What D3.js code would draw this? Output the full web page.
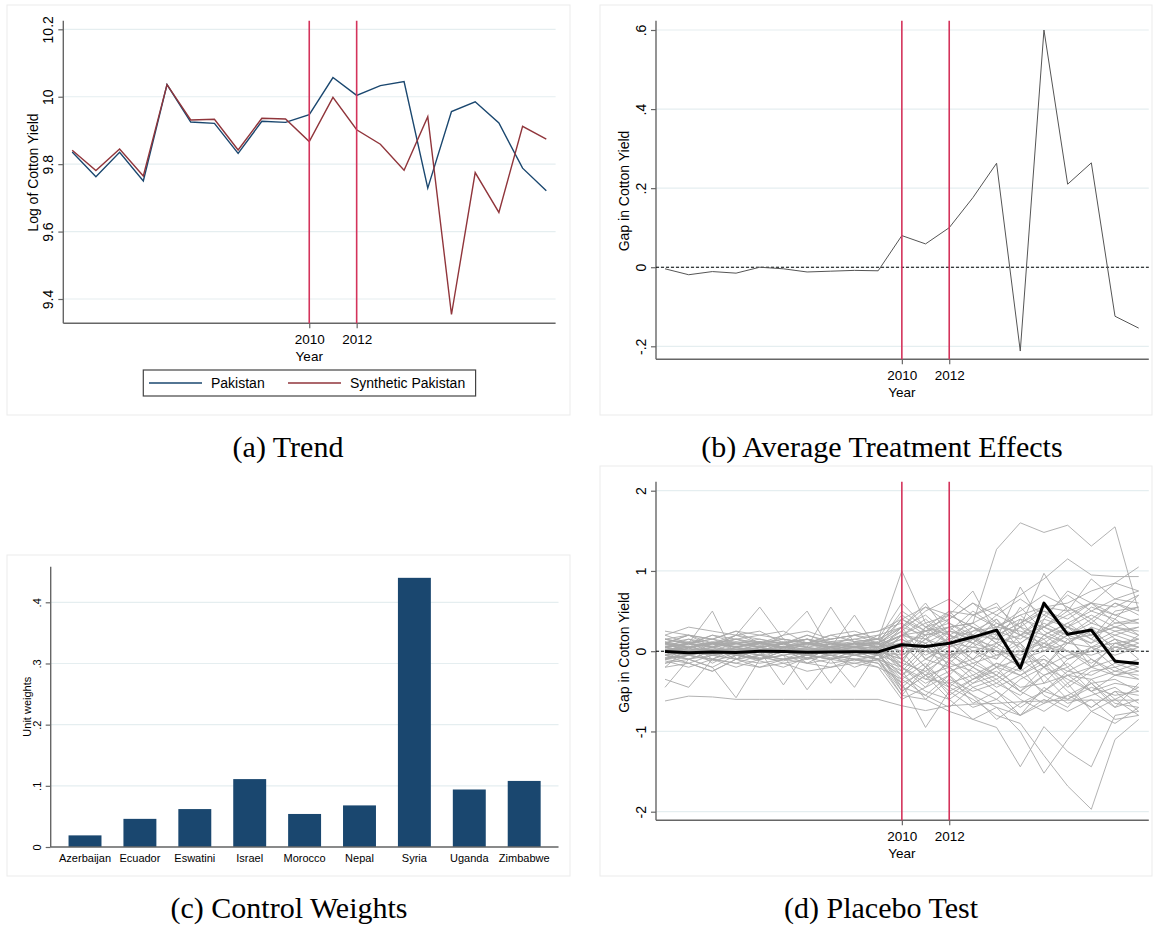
<!DOCTYPE html>
<html>
<head>
<meta charset="utf-8">
<script src="https://cdn.jsdelivr.net/npm/d3@7/dist/d3.min.js"></script>
<style>
  body { margin: 0; background: #fff; }
  svg text { font-family: "Liberation Sans", Arial, sans-serif; fill: #000; }
  svg text.caption { font-family: "Liberation Serif", "Times New Roman", serif; font-size: 30px; }
</style>
</head>
<body>
<div id="chart"></div>
<script>
// Datos
const years = [2000, 2001, 2002, 2003, 2004, 2005, 2006, 2007, 2008, 2009, 2010,
               2011, 2012, 2013, 2014, 2015, 2016, 2017, 2018, 2019, 2020]
const markYears = [2010, 2012]

// (a) Trend
const pakistan  = [9.836, 9.763, 9.835, 9.750, 10.036, 9.925, 9.921, 9.832, 9.927, 9.924, 9.947,
                   10.057, 10.004, 10.033, 10.045, 9.729, 9.956, 9.985, 9.922, 9.788, 9.721]
const synthetic = [9.841, 9.781, 9.845, 9.765, 10.036, 9.931, 9.933, 9.842, 9.936, 9.934, 9.867,
                   9.998, 9.902, 9.859, 9.782, 9.941, 9.354, 9.775, 9.657, 9.912, 9.874]
const ticksA = [9.4, 9.6, 9.8, 10, 10.2]
const labelsA = ["9.4", "9.6", "9.8", "10", "10.2"]

// (b) Average Treatment Effects
const gap = [-0.004, -0.019, -0.011, -0.015, 0.0, -0.004, -0.012, -0.010, -0.008, -0.009, 0.080,
             0.059, 0.100, 0.176, 0.263, -0.212, 0.600, 0.210, 0.264, -0.124, -0.154]
const ticksB = [-0.2, 0, 0.2, 0.4, 0.6]
const labelsB = ["-.2", "0", ".2", ".4", ".6"]

// (c) Control Weights
const countries = ["Azerbaijan", "Ecuador", "Eswatini", "Israel", "Morocco", "Nepal", "Syria", "Uganda", "Zimbabwe"]
const weights = [0.019, 0.046, 0.062, 0.111, 0.054, 0.068, 0.440, 0.094, 0.108]
const ticksC = [0, 0.1, 0.2, 0.3, 0.4]
const labelsC = ["0", ".1", ".2", ".3", ".4"]

// (d) Placebo Test (cada fila es un país placebo)
const placebo = [
  [0.05,0.08,0.1,0.06,0.1,0.08,0.05,0.1,0.06,0.08, 0.2,0.15,0.3,0.35,1.27,1.6,1.48,1.57,1.31,1.55,0.5],
  [0.1,0.05,0.12,0.08,0.1,0.05,0.1,0.08,0.12,0.15, 1.0,0.35,0.45,0.3,0.2,0.35,0.5,0.4,0.6,0.45,0.55],
  [0.02,0.05,0,0.04,0.02,0.05,0.03,0.05,0.04,0.05, 0.2,0.25,0.3,0.35,0.5,0.7,0.9,1.15,0.95,0.93,0.93],
  [-0.05,0,-0.03,0.02,-0.02,0,0.02,-0.01,0,0.03, 0.1,0.05,0.15,0.25,0.3,0.45,0.55,0.6,0.75,0.85,1.05],
  [0.1,0.2,0.15,0.05,0.1,0.15,0.1,0.2,0.12,0.15, 0.3,0.2,0.25,0.2,0.15,0.8,0.3,0.45,0.6,0.55,0.7],
  [0,-0.05,0.1,0.05,0.12,0.02,0.08,0.05,0.1,0.1, 0.4,0.55,0.45,0.75,0.2,0.35,0.55,0.5,0.9,0.65,0.75],
  [0.05,0.1,0.05,0.15,0.1,0.05,0.1,0.05,0.08,0.1, 0.25,0.5,0.65,0.45,0.55,0.3,0.97,0.5,0.6,0.35,0.35],
  [-0.62,-0.56,-0.57,-0.6,-0.6,-0.6,-0.6,-0.6,-0.6,-0.6, -0.68,-0.74,-0.68,-0.66,-0.65,-0.63,-0.62,-0.61,-0.61,-0.61,-0.61],
  [0.1,0.05,0.08,0.1,0.12,0.05,0.1,0.08,0.05,0.1, -0.1,-0.3,-0.45,-0.6,-0.8,-0.9,-1.3,-1.68,-1.97,-1.1,-0.85],
  [-0.1,-0.05,-0.1,-0.15,-0.05,-0.1,-0.08,-0.05,-0.1,-0.12, -0.3,-0.5,-0.6,-0.85,-0.95,-1.44,-0.94,-1.25,-1.44,-0.8,-0.75],
  [0.05,0,0.02,-0.05,0,0.03,-0.02,0,0.05,0, -0.2,-0.35,-0.4,-0.55,-0.7,-1.0,-1.52,-1.1,-0.75,-0.9,-0.7],
  [0.15,0.1,0.5,-0.1,0.05,0.1,0.0,0.05,0.1,0.05, -0.2,0.1,-0.3,0.0,-0.2,-0.3,-0.1,-0.4,-0.2,-0.3,-0.25],
  [-0.2,0.05,0.1,0.2,0.55,0.15,-0.1,0.05,0.1,-0.05, 0.2,0.4,0.15,0.3,0.1,0.2,0.3,0.15,0.2,0.35,0.4],
  [0.05,0.1,0.0,0.1,0.05,0.2,0.5,0.0,0.1,0.1, 0.3,0.6,0.2,0.1,0.4,0.0,0.1,0.3,0.05,0.2,0.1],
  [0.0,0.05,0.1,0.05,0.0,0.1,0.05,0.55,0.1,0.05, 0.1,-0.2,0.2,0.0,-0.1,0.2,0.1,-0.1,0.0,0.15,0.05],
  [0.1,0.0,0.05,0.1,0.05,0.0,0.1,0.05,0.45,0.0, -0.1,0.2,0.3,0.1,0.0,-0.2,0.1,0.0,-0.15,0.05,0.0],
  [-0.45,-0.1,0.0,-0.05,-0.1,0.0,-0.05,-0.1,0.0,-0.05, -0.3,-0.1,-0.2,-0.4,-0.3,-0.5,-0.2,-0.35,-0.5,-0.4,-0.45],
  [-0.35,-0.45,-0.1,0.0,-0.05,-0.1,0.0,-0.05,-0.1,-0.15, -0.55,-0.2,-0.4,-0.3,-0.5,-0.7,-0.5,-0.6,-0.45,-0.55,-0.5],
  [0.0,-0.1,-0.2,-0.58,-0.1,0.0,-0.1,-0.05,0.0,-0.1, -0.2,-0.45,-0.1,-0.35,-0.2,-0.1,-0.3,-0.2,-0.5,-0.3,-0.35],
  [-0.1,0.0,-0.05,0.0,-0.1,-0.05,-0.48,-0.1,-0.45,0.0, -0.5,-0.3,-0.6,-0.4,-0.2,-0.5,-0.3,-0.6,-0.4,-0.7,-0.6],
  [0.0,-0.05,0.0,-0.05,0.0,-0.42,0.0,-0.4,0.0,-0.1, 0.2,0.1,-0.1,0.25,0.4,0.1,0.3,0.5,0.2,0.3,0.25],
  [0.25,0.2,0.15,0.25,0.1,0.2,0.25,0.15,0.2,0.25, 0.4,0.2,0.5,0.45,0.3,0.5,0.7,0.55,0.4,0.6,0.45],
  [0.2,0.3,0.25,0.2,0.15,0.1,0.2,0.1,0.15,0.2, 0.3,0.45,0.2,0.1,0.3,0.25,0.15,0.3,0.45,0.3,0.2],
  [0.15,0.1,0.2,0.15,0.1,0.15,0.1,0.15,0.2,0.15, -0.1,-0.3,0.0,-0.2,0.1,-0.1,0.2,0.0,-0.2,0.1,0.05],
  [-0.1,-0.15,-0.05,-0.1,-0.15,-0.1,-0.05,-0.1,-0.15,-0.1, -0.5,-0.3,-0.2,-0.45,-0.6,-0.35,-0.2,-0.5,-0.7,-0.5,-0.75],
  [0.05,0.0,0.05,0.0,0.05,0.0,0.05,0.0,0.05,0.0, 0.3,-0.1,0.1,0.2,-0.1,0.4,0.0,0.2,-0.2,0.1,0.15],
  [-0.05,0.0,-0.05,0.0,-0.05,0.0,-0.05,0.0,-0.05,0.0, -0.3,0.0,-0.15,0.1,-0.2,0.1,-0.4,-0.1,0.05,-0.2,-0.1],
  [0.1,0.05,0.1,0.05,0.1,0.05,0.1,0.05,0.1,0.1, 0.5,0.3,0.4,0.6,0.45,0.3,0.2,0.35,0.5,0.65,0.6],
  [-0.05,-0.1,-0.05,-0.1,-0.05,-0.1,-0.05,-0.1,-0.05,-0.1, -0.55,-0.6,-0.75,-0.85,-0.7,-0.8,-0.6,-0.75,-0.6,-0.85,-0.8],
  [0.02,-0.02,0.02,-0.02,0.02,-0.02,0.02,-0.02,0.02,-0.02, -0.4,-0.95,-0.5,-0.7,-0.6,-0.8,-0.65,-0.55,-0.7,-0.5,-0.55],
  [0.08,0.12,0.08,0.12,0.08,0.12,0.08,0.12,0.08,0.12, 0.45,0.25,0.35,0.15,0.25,0.4,0.3,0.2,0.35,0.25,0.3],
  [-0.08,-0.05,-0.12,-0.05,-0.08,-0.12,-0.05,-0.08,-0.12,-0.05, 0.1,-0.2,0.0,-0.3,-0.15,-0.25,-0.05,-0.3,-0.2,-0.1,-0.2],
  [0.0,0.1,-0.1,0.05,-0.05,0.1,-0.1,0.05,0.0,0.05, -0.15,0.3,0.1,-0.1,0.2,0.05,-0.2,0.1,0.3,0.0,0.1],
  [0.12,0.05,0.1,0.15,0.05,0.1,0.15,0.05,0.1,0.05, 0.25,0.05,-0.1,0.15,0.35,0.2,0.05,0.25,0.1,0.4,0.2],
  [-0.12,-0.2,-0.1,-0.15,-0.2,-0.1,-0.15,-0.2,-0.1,-0.15, -0.4,-0.25,-0.5,-0.35,-0.25,-0.45,-0.4,-0.3,-0.35,-0.25,-0.3],
  [0.05,0.15,0.05,0.2,0.1,0.05,0.15,0.1,0.05,0.2, -0.05,0.15,0.05,0.3,0.1,0.55,0.25,0.1,0.3,0.2,0.3],
  [-0.05,-0.15,-0.25,-0.1,-0.05,-0.15,-0.1,-0.05,-0.2,-0.1, -0.25,-0.6,-0.35,-0.5,-0.4,-0.2,-0.55,-0.7,-0.35,-0.6,-0.45],
  [0.0,0.02,0.0,0.02,0.0,0.02,0.0,0.02,0.0,0.02, 0.05,0.0,-0.05,0.05,0.0,-0.05,0.05,0.0,-0.05,0.05,0.0],
  [0.03,0.0,0.03,0.0,0.03,0.0,0.03,0.0,0.03,0.0, -0.1,0.15,-0.05,0.0,0.1,-0.1,0.0,0.1,0.05,-0.05,0.05],
  [-0.02,0.03,-0.02,0.03,-0.02,0.03,-0.02,0.03,-0.02,0.03, 0.15,-0.05,0.1,-0.15,-0.05,0.1,-0.2,-0.05,0.0,0.15,-0.1],
  [0.15,0.08,0.2,0.1,0.15,0.08,0.2,0.12,0.15,0.1, 0.0,0.3,0.5,0.2,0.0,-0.2,0.4,0.3,0.15,0.5,0.55],
  [-0.15,-0.1,-0.2,-0.05,-0.12,-0.2,-0.08,-0.15,-0.1,-0.2, -0.35,-0.15,-0.45,-0.2,-0.4,-0.55,-0.3,-0.15,-0.4,-0.35,-0.5],
  [0.1,0.2,0.05,0.2,0.25,0.1,0.15,0.05,0.2,0.25, 0.35,0.15,0.4,0.6,0.35,0.2,0.45,0.7,0.5,0.4,0.7],
  [-0.1,0.05,-0.15,0.0,-0.1,0.05,-0.15,0.0,-0.05,-0.1, -0.45,-0.55,-0.3,-0.65,-0.5,-0.8,-0.45,-0.65,-0.55,-0.45,-0.65],
  [0.05,-0.05,0.1,-0.05,0.05,0.1,-0.05,0.05,-0.05,0.05, 0.2,0.35,0.1,0.05,0.25,0.15,0.35,0.2,0.1,0.25,0.15],
  [0.1,0.15,0.1,0.05,0.12,0.1,0.15,0.1,0.05,0.1, -0.2,-0.4,-0.25,-0.15,-0.3,-0.5,-0.65,-0.4,-0.75,-0.6,-0.8],
  [-0.05,0.1,0.05,0.1,0.0,0.05,0.1,0.0,0.05,0.05, 0.4,0.25,0.1,0.45,0.6,0.2,0.4,0.75,0.6,0.85,0.75],
  [0.0,-0.05,0.05,-0.1,0.05,-0.05,0.0,0.05,-0.05,0.0, -0.45,-0.2,-0.55,-0.35,-0.15,-0.3,-0.5,-0.25,-0.1,-0.3,-0.2],
  [0.2,0.1,0.15,0.25,0.2,0.15,0.1,0.2,0.25,0.15, 0.05,0.25,0.45,0.3,0.15,0.1,0.3,0.55,0.35,0.6,0.5],
  [-0.15,-0.05,-0.1,-0.2,-0.1,-0.05,-0.15,-0.1,-0.05,-0.1, 0.0,-0.35,-0.15,-0.25,-0.45,-0.3,-0.15,-0.45,-0.25,-0.2,-0.35],
  [0.05,0.1,0.15,0.1,0.05,0.1,0.15,0.05,0.1,0.15, 0.6,0.3,0.2,0.35,0.15,0.3,0.05,0.2,0.4,0.15,0.05],
  [-0.1,-0.05,0.0,-0.05,-0.1,-0.05,0.0,-0.05,-0.1,-0.05, -0.35,-0.55,-0.7,-0.45,-0.35,-0.6,-0.75,-0.55,-0.4,-0.65,-0.7],
  [0.1,0.0,0.1,0.05,0.0,0.1,0.05,0.0,0.1,0.05, 0.15,0.0,0.25,0.5,0.3,0.45,0.2,0.1,0.25,0.05,0.15],
  [0.0,0.05,0.0,0.05,0.1,0.05,0.0,0.05,0.1,0.05, -0.25,0.05,0.15,-0.1,-0.3,0.0,-0.2,0.15,-0.1,-0.25,-0.15],
  [-0.2,-0.15,-0.25,-0.1,-0.2,-0.15,-0.25,-0.2,-0.15,-0.2, -0.6,-0.45,-0.3,-0.55,-0.85,-0.65,-0.5,-0.3,-0.5,-0.7,-0.4],
  [0.15,0.2,0.1,0.15,0.2,0.25,0.1,0.15,0.2,0.1, 0.3,0.55,0.35,0.2,0.45,0.65,0.45,0.3,0.55,0.45,0.35],
  [0.05,0.0,-0.05,0.0,0.05,0.0,-0.05,0.0,0.05,0.0, 0.1,0.2,-0.2,-0.1,0.05,-0.15,0.2,0.35,0.15,0.0,0.2],
  [0.0,0.1,0.05,0.0,0.1,0.05,0.0,0.1,0.05,0.0, -0.05,0.1,0.25,0.15,0.05,0.3,0.5,0.3,0.2,0.3,0.4],
  [-0.05,-0.1,0.0,-0.05,-0.1,0.0,-0.05,-0.1,0.0,-0.05, -0.15,-0.25,-0.05,-0.2,-0.35,-0.15,-0.1,-0.25,-0.3,-0.15,-0.25],
  [0.08,0.03,0.1,0.02,0.07,0.04,0.1,0.03,0.06,0.08, 0.2,-0.1,0.05,0.15,-0.05,0.0,0.15,-0.2,0.05,0.1,0.0]
]
const ticksD = [-2, -1, 0, 1, 2]
const labelsD = ["-2", "-1", "0", "1", "2"]

// Colores estilo Stata
const navy = "#1a476f"
const maroon = "#90353b"
const redLine = "#d4335b"
const gridColor = "#e5eef0"
const axisColor = "#666"

const svg = d3.select("#chart")
    .append("svg")
    .attr("width", 1156)
    .attr("height", 926)

// Marco de cada panel
function frame(x0, y0, x1, y1) {
    svg.append("rect")
        .attr("x", x0).attr("y", y0)
        .attr("width", x1 - x0).attr("height", y1 - y0)
        .attr("fill", "#fff")
        .attr("stroke", "#ebebeb")
}

// Eje Y con rejilla y etiquetas giradas
function yAxis(y, ticks, labels, left, right, top, bottom, size) {
    const g = svg.append("g")
    g.selectAll(".grid").data(ticks).join("line")
        .attr("class", "grid")
        .attr("x1", left).attr("x2", right)
        .attr("y1", d => y(d)).attr("y2", d => y(d))
        .attr("stroke", gridColor).attr("stroke-width", 1.2)
    const ax = d3.axisLeft(y).tickValues(ticks).tickFormat((d, i) => labels[i]).tickSize(5).tickSizeOuter(0)
    const ag = g.append("g").attr("transform", `translate(${left},0)`).call(ax)
    ag.attr("font-family", null).attr("font-size", null)
    ag.select(".domain").remove()
    ag.selectAll(".tick line").attr("stroke", axisColor).attr("stroke-width", 1.2)
    ag.selectAll(".tick text")
        .attr("transform", "rotate(-90)")
        .attr("x", 0).attr("y", -10).attr("dy", 0)
        .attr("text-anchor", "middle")
        .style("font-size", size + "px")
    g.append("line")
        .attr("x1", left).attr("x2", left)
        .attr("y1", top).attr("y2", bottom)
        .attr("stroke", axisColor).attr("stroke-width", 1.4)
    return g
}

function yTitle(text, x, y, size) {
    svg.append("text")
        .attr("transform", `translate(${x},${y}) rotate(-90)`)
        .attr("text-anchor", "middle")
        .style("font-size", size + "px")
        .text(text)
}

// Eje X de años (solo 2010 y 2012) + "Year"
function yearAxis(x, left, right, bottom) {
    const ax = d3.axisBottom(x).tickValues(markYears).tickFormat(d => d).tickSize(5).tickSizeOuter(0)
    const ag = svg.append("g").attr("transform", `translate(0,${bottom})`).call(ax)
    ag.attr("font-family", null).attr("font-size", null)
    ag.select(".domain").remove()
    ag.selectAll(".tick line").attr("stroke", axisColor).attr("stroke-width", 1.2)
    ag.selectAll(".tick text").attr("y", 21).attr("dy", 0).style("font-size", "13.5px")
    svg.append("line")
        .attr("x1", left).attr("x2", right)
        .attr("y1", bottom).attr("y2", bottom)
        .attr("stroke", axisColor).attr("stroke-width", 1.4)
    svg.append("text")
        .attr("x", x(2010)).attr("y", bottom + 37.5)
        .attr("text-anchor", "middle")
        .style("font-size", "13.5px")
        .text("Year")
}

function vLines(x, top, bottom) {
    svg.selectAll(null).data(markYears).join("line")
        .attr("x1", d => x(d)).attr("x2", d => x(d))
        .attr("y1", top).attr("y2", bottom)
        .attr("stroke", redLine).attr("stroke-width", 1.6)
}

function zeroLine(y, left, right) {
    svg.append("line")
        .attr("x1", left).attr("x2", right)
        .attr("y1", y(0)).attr("y2", y(0))
        .attr("stroke", "#000").attr("stroke-width", 1.1)
        .attr("stroke-dasharray", "3,2")
}

function caption(text, x, y) {
    svg.append("text").attr("class", "caption")
        .attr("x", x).attr("y", y)
        .attr("text-anchor", "middle")
        .text(text)
}

// ---------- (a) Trend ----------
frame(7, 5, 570, 415)
const xA = d3.scaleLinear().domain([2000, 2020]).range([72.2, 546.3])
const yA = d3.scaleLinear().domain([9.4, 10.2]).range([299, 29.3])
yAxis(yA, ticksA, labelsA, 63.3, 555.6, 20.7, 323.3, 14)
yTitle("Log of Cotton Yield", 38, 172.5, 14)
yearAxis(xA, 63.3, 555.6, 323.3)

const lineA = d3.line().x((d, i) => xA(years[i])).y(d => yA(d))
svg.append("path").datum(pakistan).attr("d", lineA)
    .attr("fill", "none").attr("stroke", navy).attr("stroke-width", 1.4)
svg.append("path").datum(synthetic).attr("d", lineA)
    .attr("fill", "none").attr("stroke", maroon).attr("stroke-width", 1.4)
vLines(xA, 20.7, 323.3)

// Leyenda
const legend = svg.append("g")
legend.append("rect")
    .attr("x", 143.3).attr("y", 370).attr("width", 332.3).attr("height", 26)
    .attr("fill", "#fff").attr("stroke", "#444").attr("stroke-width", 1.2)
const legendItems = [
    { name: "Pakistan", color: navy, x: 149 },
    { name: "Synthetic Pakistan", color: maroon, x: 288 }
]
legend.selectAll(".key").data(legendItems).join("line")
    .attr("x1", d => d.x).attr("x2", d => d.x + 53)
    .attr("y1", 383).attr("y2", 383)
    .attr("stroke", d => d.color).attr("stroke-width", 1.6)
legend.selectAll(".lab").data(legendItems).join("text")
    .attr("x", d => d.x + 62).attr("y", 388)
    .style("font-size", "14px")
    .text(d => d.name)

caption("(a) Trend", 288, 457)

// ---------- (b) Average Treatment Effects ----------
frame(600, 5, 1152, 415)
const xB = d3.scaleLinear().domain([2000, 2020]).range([665, 1138.7])
const yB = d3.scaleLinear().domain([-0.2, 0.6]).range([346.3, 30])
yAxis(yB, ticksB, labelsB, 656, 1148.8, 20.7, 359.3, 14)
yTitle("Gap in Cotton Yield", 629, 191, 14)
zeroLine(yB, 656, 1148.8)
yearAxis(xB, 656, 1148.8, 359.3)
svg.append("path").datum(gap)
    .attr("d", d3.line().x((d, i) => xB(years[i])).y(d => yB(d)))
    .attr("fill", "none").attr("stroke", "#555").attr("stroke-width", 1)
vLines(xB, 20.7, 359.3)

caption("(b) Average Treatment Effects", 882, 457)

// ---------- (c) Control Weights ----------
frame(7, 555, 570, 876)
const xC = d3.scaleBand().domain(countries).range([50.7, 558.5]).paddingInner(0.4).paddingOuter(0.325)
const yC = d3.scaleLinear().domain([0, 0.4]).range([847, 602.3])
yAxis(yC, ticksC, labelsC, 50.7, 558.5, 566.7, 847, 11)
yTitle("Unit weights", 30.5, 706.7, 11)

svg.selectAll(".bar").data(weights).join("rect")
    .attr("class", "bar")
    .attr("x", (d, i) => xC(countries[i]))
    .attr("y", d => yC(d))
    .attr("width", xC.bandwidth())
    .attr("height", d => yC(0) - yC(d))
    .attr("fill", navy)

const axC = svg.append("g").attr("transform", "translate(0,847)")
    .call(d3.axisBottom(xC).tickSize(0).tickSizeOuter(0))
axC.attr("font-family", null).attr("font-size", null)
axC.select(".domain").remove()
axC.selectAll(".tick text").attr("y", 15).attr("dy", 0).style("font-size", "11px")
svg.append("line")
    .attr("x1", 50.7).attr("x2", 558.5)
    .attr("y1", 847).attr("y2", 847)
    .attr("stroke", axisColor).attr("stroke-width", 1.4)

caption("(c) Control Weights", 289, 918)

// ---------- (d) Placebo Test ----------
frame(600, 466, 1152, 876)
const xD = d3.scaleLinear().domain([2000, 2020]).range([665, 1138.7])
const yD = d3.scaleLinear().domain([-2, 2]).range([811.7, 490.7])
yAxis(yD, ticksD, labelsD, 656, 1148.8, 481.7, 820.3, 14)
yTitle("Gap in Cotton Yield", 629, 652.5, 14)
zeroLine(yD, 656, 1148.8)
yearAxis(xD, 656, 1148.8, 820.3)

const lineD = d3.line().x((d, i) => xD(years[i])).y(d => yD(d))
svg.append("g").selectAll("path").data(placebo).join("path")
    .attr("d", lineD)
    .attr("fill", "none").attr("stroke", "#a9a9a9").attr("stroke-width", 0.9)
vLines(xD, 481.7, 820.3)
svg.append("path").datum(gap).attr("d", lineD)
    .attr("fill", "none").attr("stroke", "#000").attr("stroke-width", 3)
    .attr("stroke-linejoin", "round")

caption("(d) Placebo Test", 881, 918)
</script>
</body>
</html>
